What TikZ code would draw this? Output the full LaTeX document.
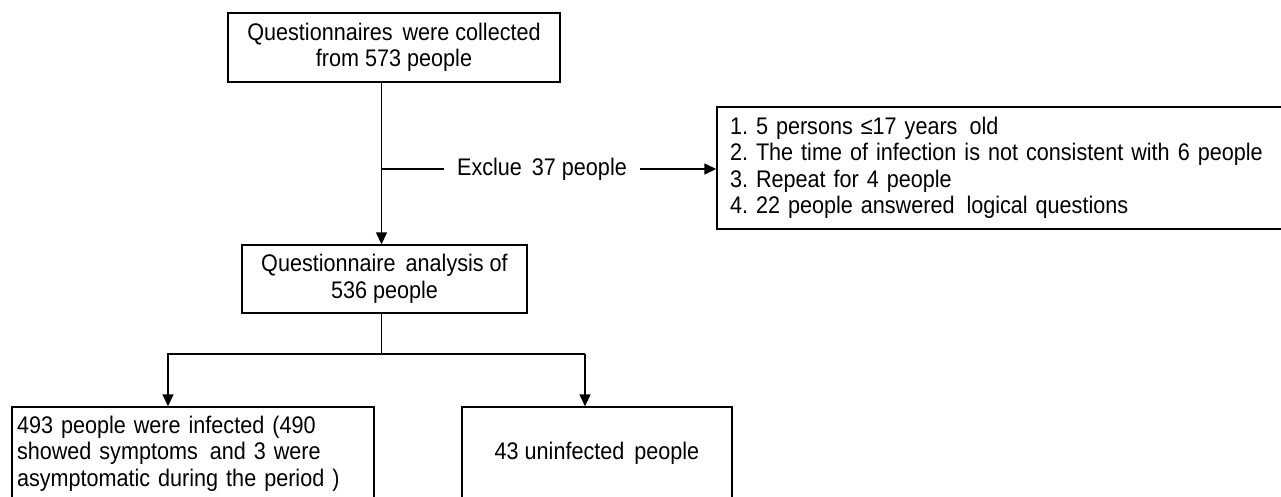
\documentclass[tikz,border=0pt]{standalone}
\usepackage{fontspec}
\setmainfont{Liberation Sans}[FakeStretch=0.9]
\usetikzlibrary{arrows.meta}
\newcommand{\wsp}{\ \hspace{4pt}}
\frenchspacing
\begin{document}
\begin{tikzpicture}[x=1pt,y=-1pt,
  font=\fontsize{24}{26.5}\selectfont\frenchspacing,
  every node/.style={inner sep=0pt},
  box/.style={draw, line width=1.4pt, rectangle},
  conn/.style={line width=1.4pt},
  arr/.style={conn, -{Triangle[length=12pt,width=11pt]}}]
\useasboundingbox (0,0) rectangle (1281,496);
\clip (0,0) rectangle (1281,496);
\fill[white] (0,0) rectangle (1281,496);
\coordinate (spine) at (381.5,0);
\node[box, minimum width=332pt, minimum height=69pt, align=center] (b1) at (394,47.5)
  {Questionnaires\wsp were collected\\from 573 people};
\node[box, minimum width=285pt, minimum height=68pt, align=center] (b2) at (384.5,279)
  {Questionnaire\wsp analysis of\\536 people};
\node[box, minimum width=580pt, minimum height=122pt, text width=554pt, inner xsep=13pt, align=left] (ex) at (1007,168)
  {1. 5 persons ≤17 years\wsp old\\2. The time of infection is not consistent with 6 people\\3. Repeat for 4 people\\4. 22 people answered\wsp logical questions};
\node[inner xsep=13pt] (exl) at (542,169) {Exclue\wsp 37 people};
\node[box, minimum width=362pt, minimum height=93pt, text width=352pt, inner xsep=5pt, align=left] (b3) at (193,453.5)
  {493 people were infected (490\\showed symptoms\wsp and 3 were\\asymptomatic during the period )};
\node[box, minimum width=270pt, minimum height=93pt, align=center] (b4) at (597,453.5)
  {43 uninfected\wsp people};
\coordinate (la) at (168,354);
\coordinate (ra) at (585,354);
\draw[arr] (b1.south -| spine) -- (b2.north -| spine);
\draw[conn] (exl.west -| spine) -- (exl.west);
\draw[arr] (exl.east) -- (ex.west |- exl.east);
\draw[conn] (b2.south -| spine) -- (spine |- la);
\draw[arr] (ra) -- (la) -- (la |- b3.north);
\draw[arr] (ra) -- (ra |- b4.north);
\end{tikzpicture}
\end{document}
